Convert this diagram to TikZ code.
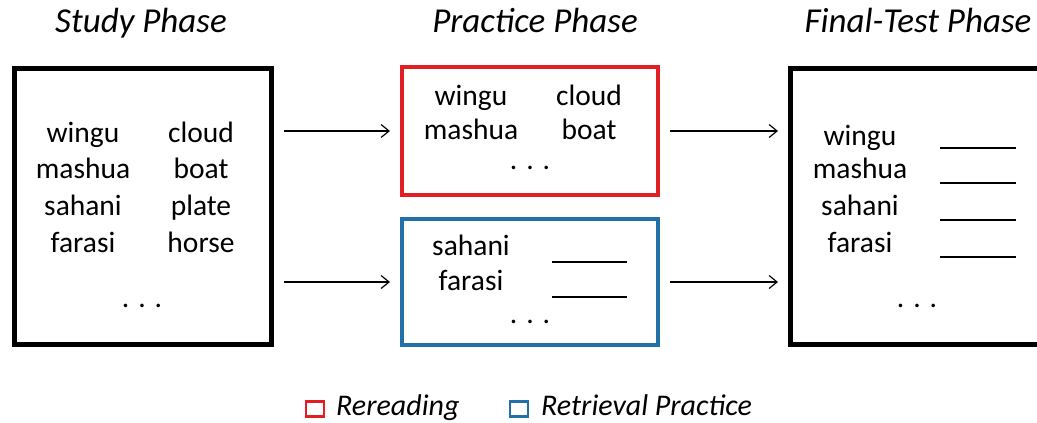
\documentclass[tikz,border=0pt]{standalone}
\usepackage{fontspec}
\setmainfont{Carlito}
\usetikzlibrary{arrows.meta}

\definecolor{rereadred}{RGB}{224,30,36}
\definecolor{retrieveblue}{RGB}{34,112,168}

\begin{document}
\begin{tikzpicture}[x=1pt, y=1pt,
    phase/.style={font=\fontsize{35}{40}\selectfont\itshape, anchor=base},
    word/.style={font=\fontsize{29.5}{34}\selectfont, anchor=base, inner sep=0pt},
    dots/.style={font=\fontsize{29.5}{34}\selectfont, anchor=base, inner sep=0pt},
    panel/.style={draw, line width=#1, minimum width=256pt, inner sep=0pt},
    blank/.style={line width=1.3pt},
    arr/.style={-{Straight Barb[length=8pt, width=13pt]}, line width=1.2pt, shorten <=10pt, shorten >=10pt},
    key/.style={line width=2.2pt, minimum width=18pt, minimum height=15pt, inner sep=0pt},
    legend/.style={font=\fontsize{30}{34}\selectfont\itshape, anchor=base west, inner sep=0pt}]
    \useasboundingbox (0, 0) rectangle (1037, 423);

    % Phase titles
    \node[phase] at (141, 390) (tstudy) {Study Phase};
    \node[phase] at (535, 390) (tpractice) {Practice Phase};
    \node[phase] at (918, 390) (tfinal) {Final-Test Phase};

    % Boxes
    \node[panel=5pt, minimum width=257pt, minimum height=276pt] at (142.5, 216.5) (study) {};
    \node[panel=4pt, draw=rereadred, minimum height=128pt] at (530, 292) (reread) {};
    \node[panel=4pt, draw=retrieveblue, minimum height=126pt] at (530, 141) (retrieve) {};
    \node[panel=5pt, minimum width=270pt, minimum height=276pt] at (925.5, 216.5) (final) {};

    % Study phase: word pairs
    \node[word] at (83, 280) (s1) {wingu};
    \node[word] at (83, 244) (s2) {mashua};
    \node[word] at (83, 207) (s3) {sahani};
    \node[word] at (83, 170) (s4) {farasi};
    \node[word] at (201, 280) (e1) {cloud};
    \node[word] at (201, 244) (e2) {boat};
    \node[word] at (201, 207) (e3) {plate};
    \node[word] at (201, 170) (e4) {horse};
    \node[dots] at (142, 115) (sdots) {. . .};

    % Practice phase: rereading
    \node[word] at (471, 317) (r1) {wingu};
    \node[word] at (471, 283) (r2) {mashua};
    \node[word] at (589, 317) (q1) {cloud};
    \node[word] at (589, 283) (q2) {boat};
    \node[dots] at (530, 253) (rdots) {. . .};

    % Practice phase: retrieval
    \node[word] at (471, 167) (p1) {sahani};
    \node[word] at (471, 132) (p2) {farasi};
    \draw[blank] (552, 161) -- (627, 161);
    \draw[blank] (552, 126) -- (627, 126);
    \node[dots] at (530, 99) (pdots) {. . .};

    % Final test
    \node[word] at (860, 277) (f1) {wingu};
    \node[word] at (860, 244) (f2) {mashua};
    \node[word] at (860, 207) (f3) {sahani};
    \node[word] at (860, 170) (f4) {farasi};
    \foreach \y in {275, 240, 203, 166}
        \draw[blank] (940, \y) -- (1016, \y);
    \node[dots] at (917, 115) (fdots) {. . .};

    % Arrows
    \draw[arr] (study.east |- reread.west) -- (reread.west);
    \draw[arr] (study.east |- retrieve.west) -- (retrieve.west);
    \draw[arr] (reread.east) -- (final.west |- reread.east);
    \draw[arr] (retrieve.east) -- (final.west |- retrieve.east);

    % Legend
    \node[key, draw=rereadred] at (315, 14) (kred) {};
    \node[legend] at (336, 7) (lred) {Rereading};
    \node[key, draw=retrieveblue] at (519, 14) (kblue) {};
    \node[legend] at (541, 7) (lblue) {Retrieval Practice};
  \end{tikzpicture}
\end{document}
